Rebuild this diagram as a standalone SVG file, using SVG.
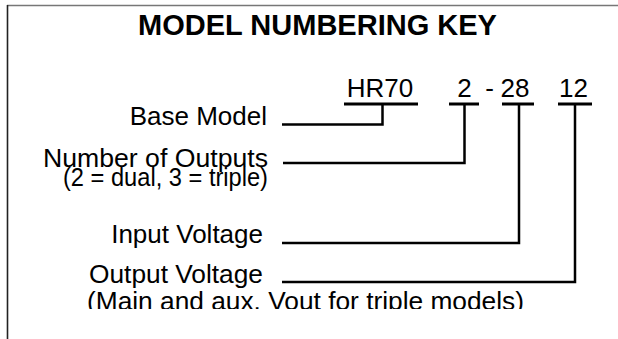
<svg xmlns="http://www.w3.org/2000/svg" width="618" height="339" viewBox="0 0 618 339">
<style>
.t{font-family:"Liberation Sans",Arial,sans-serif;font-size:26px;fill:#000}
.h{font-family:"Liberation Sans",Arial,sans-serif;font-size:29px;font-weight:bold;fill:#000}
.c{fill:none;stroke:#000;stroke-width:2.5;stroke-linejoin:miter;stroke-linecap:butt}
.u{stroke:#000;stroke-width:3}
</style>
<defs>
<clipPath id="clipLast"><rect x="0" y="0" width="618" height="309"/></clipPath>
</defs>
<rect x="0" y="0" width="618" height="339" fill="#fff"/>
<g id="frame">
<line x1="7" y1="5.5" x2="618" y2="5.5" stroke="#777" stroke-width="1.6"/>
<line x1="7.5" y1="5" x2="7.5" y2="339" stroke="#222" stroke-width="1.6"/>
</g>
<g id="title"><text class="h" x="317.5" y="35" text-anchor="middle">MODEL NUMBERING KEY</text></g>
<g id="code">
<text class="t" x="380" y="97" text-anchor="middle">HR70</text>
<text class="t" x="464.5" y="97" text-anchor="middle">2</text>
<text class="t" x="489.5" y="97" text-anchor="middle">-</text>
<text class="t" x="515" y="97" text-anchor="middle">28</text>
<text class="t" x="573.5" y="97" text-anchor="middle">12</text>
<line class="u" x1="344" y1="104" x2="418" y2="104"/>
<line class="u" x1="449" y1="104" x2="479" y2="104"/>
<line class="u" x1="502" y1="104" x2="534" y2="104"/>
<line class="u" x1="558" y1="104" x2="592" y2="104"/>
</g>
<g id="base-model"><text class="t" x="267" y="125" text-anchor="end">Base Model</text></g>
<g id="num-outputs">
<text class="t" x="268" y="167" text-anchor="end" textLength="225" lengthAdjust="spacingAndGlyphs">Number of Outputs</text>
<text class="t" x="268" y="186" text-anchor="end" textLength="205" lengthAdjust="spacingAndGlyphs">(2 = dual, 3 = triple)</text>
</g>
<g id="input-voltage"><text class="t" x="263" y="243" text-anchor="end">Input Voltage</text></g>
<g id="output-voltage">
<text class="t" x="263" y="283" text-anchor="end" textLength="174" lengthAdjust="spacingAndGlyphs">Output Voltage</text>
<text class="t" x="87" y="310" clip-path="url(#clipLast)" textLength="437" lengthAdjust="spacingAndGlyphs">(Main and aux. Vout for triple models)</text>
</g>
<g id="connectors">
<polyline class="c" points="282,124.5 382.5,124.5 382.5,104"/>
<polyline class="c" points="283,163 464.5,163 464.5,104"/>
<polyline class="c" points="282,243 519,243 519,104"/>
<polyline class="c" points="282,282 575,282 575,104"/>
</g>
</svg>
